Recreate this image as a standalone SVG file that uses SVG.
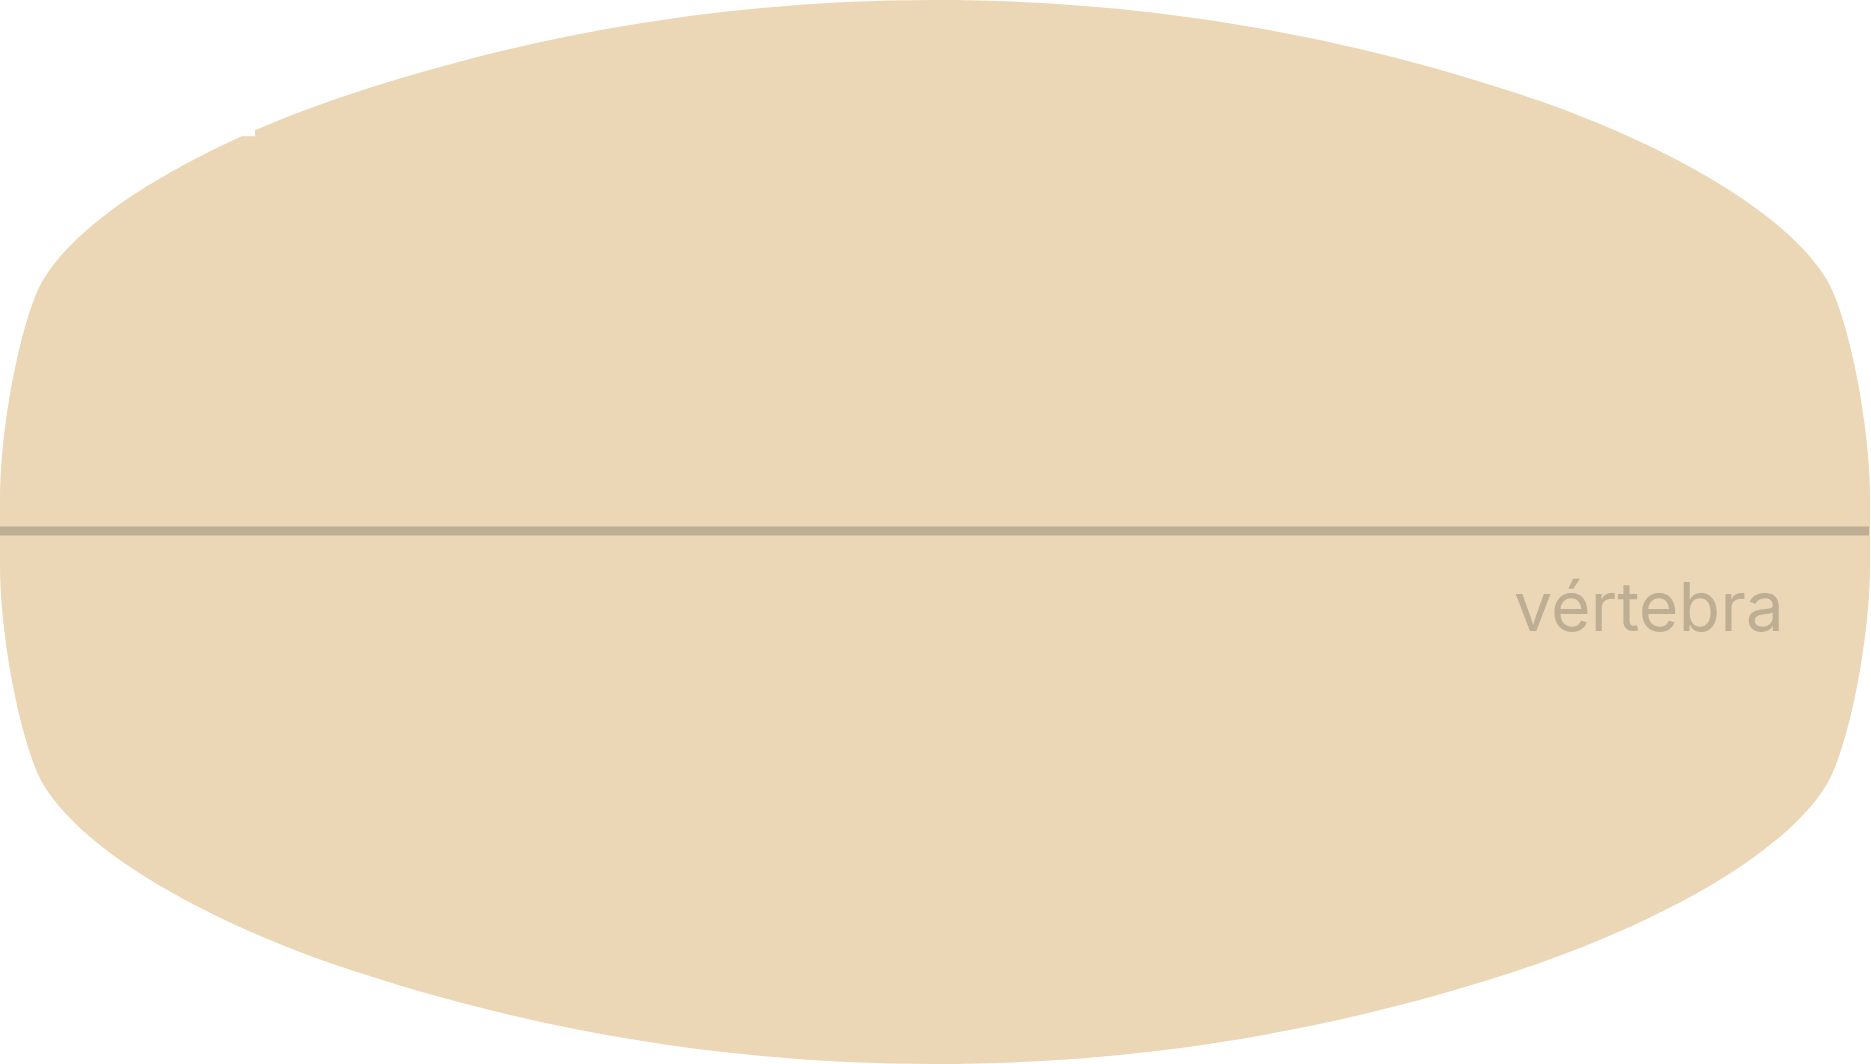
<svg xmlns="http://www.w3.org/2000/svg" width="1871" height="1064" viewBox="0 0 1871 1064">
<style>
.body{fill:#ebd6b5}
.mark{stroke:#beae94;stroke-width:9}
.lbl{fill:#beae94;font-family:Inter,"Liberation Sans",sans-serif;font-size:68px}
</style>
<rect width="1871" height="1064" fill="#ffffff"/>
<g id="vertebra">
<path class="body" d="M935,0 C685,0 483,49 333,100 C223,138 88,205 43,280 C23,314 0,420 0,500 L0,564 C0,644 23,750 43,784 C88,859 223,926 333,964 C483,1015 685,1064 935,1064 C1185,1064 1387,1015 1537,964 C1647,926 1782,859 1827,784 C1847,750 1870,644 1870,564 L1870,500 C1870,420 1847,314 1827,280 C1782,205 1647,138 1537,100 C1387,49 1185,0 935,0 Z"/>
<line class="mark" x1="0" y1="531" x2="1869" y2="531"/>
<text class="lbl" x="1514" y="631" textLength="270" lengthAdjust="spacingAndGlyphs">vértebra</text>
</g>
</svg>
